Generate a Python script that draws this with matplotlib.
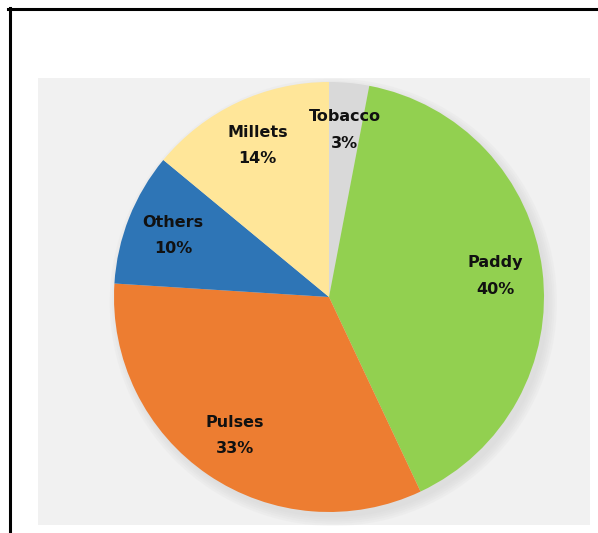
import matplotlib
matplotlib.use("Agg")
import matplotlib.pyplot as plt
from matplotlib.patches import Rectangle, Circle
from matplotlib.lines import Line2D

# crop share, clockwise from 12 o'clock
crops = ["Tobacco", "Paddy", "Pulses", "Others", "Millets"]
shares = [3, 40, 33, 10, 14]
colors = ["#d9d9d9", "#92d050", "#ed7d31", "#2e75b6", "#ffe699"]

fig = plt.figure(figsize=(5.98, 5.33), dpi=100)
fig.patch.set_facecolor("white")

# light grey chart area
fig.patches.append(Rectangle((38 / 598, 8 / 533), 552 / 598, 447 / 533,
                             transform=fig.transFigure, facecolor="#f1f1f1",
                             edgecolor="none", zorder=-5))

# cell borders
fig.lines.append(Line2D([8 / 598, 1], [1 - 9 / 533, 1 - 9 / 533],
                        transform=fig.transFigure, color="black", lw=2.2))
fig.lines.append(Line2D([9.5 / 598, 9.5 / 598], [0, 1 - 8 / 533],
                        transform=fig.transFigure, color="black", lw=2.2))

ax = fig.add_axes([114 / 598, 21 / 533, 430 / 598, 430 / 533])
ax.patch.set_visible(False)

# soft shadow under the pie, offset down-right
for i in range(5):
    ax.add_patch(Circle((0.02, -0.025), 1.0 + 0.01 * i, facecolor="#c8c8c8",
                        edgecolor="none", alpha=0.1, zorder=0, clip_on=False))

labels = [f"{c}\n{s}%" for c, s in zip(crops, shares)]
wedges, texts = ax.pie(shares, labels=labels, colors=colors, startangle=90,
                       counterclock=False, labeldistance=0.78, radius=1.0,
                       wedgeprops=dict(linewidth=0),
                       textprops=dict(fontsize=11.5, fontweight="heavy",
                                      color="#111111", ha="center",
                                      va="center", linespacing=1.95))
for w in wedges:
    w.set_zorder(2)
    w.set_clip_on(False)
for t in texts:
    t.set_zorder(3)
ax.set_xlim(-1.0, 1.0)
ax.set_ylim(-1.0, 1.0)
ax.set_aspect("equal")
ax.axis("off")

fig.savefig("out.png", dpi=100)
